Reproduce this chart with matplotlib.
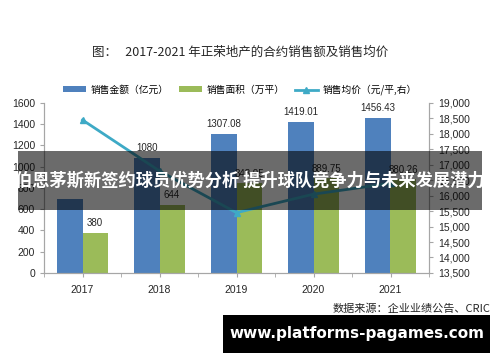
import matplotlib
matplotlib.use('Agg')
from matplotlib import pyplot as plt
from matplotlib.patches import Rectangle
from matplotlib.ticker import FuncFormatter, FixedLocator

plt.rcParams['font.family'] = ['Noto Sans CJK SC', 'DejaVu Sans']

years = ['2017', '2018', '2019', '2020', '2021']
sales_amount = [696, 1080, 1307.08, 1419.01, 1456.43]
sales_area = [380, 644, 843.95, 889.75, 880.26]
avg_price = [18450, 16800, 15450, 16050, 16400]
amount_labels = ['', '1080', '1307.08', '1419.01', '1456.43']
area_labels = ['380', '644', '843.95', '889.75', '880.26']

blue = '#4f81bd'
green = '#9bbb59'
teal = '#3eaac6'
grey = '#a6a6a6'
txt = '#262626'
num_font = 'Liberation Sans'

fig = plt.figure(figsize=(5, 3.62), dpi=100)
ax = fig.add_axes([0.088, 0.246, 0.77, 0.4695])
ax2 = ax.twinx()

x = list(range(len(years)))
w = 0.325
ax.bar([i - w / 2 for i in x], sales_amount, width=w, color=blue, label='销售金额（亿元）', zorder=2)
ax.bar([i + w / 2 for i in x], sales_area, width=w, color=green, label='销售面积（万平）', zorder=2)
for i in x:
    ax.text(i - w / 2, sales_amount[i] + 45, amount_labels[i], ha='center', va='bottom', fontsize=7,
            color=txt, family=num_font)
    ax.text(i + w / 2, sales_area[i] + 45, area_labels[i], ha='center', va='bottom', fontsize=7,
            color=txt, family=num_font)

ax2.plot(x, avg_price, color=teal, lw=2, marker='^', markersize=5, label='销售均价（元/平,右）', zorder=3)

ax.set_xlim(-0.5, 4.5)
ax.set_ylim(0, 1600)
ax.set_yticks(range(0, 1601, 200))
ax2.set_ylim(13500, 19000)
ax2.set_yticks(range(13500, 19001, 500))
ax2.yaxis.set_major_formatter(FuncFormatter(lambda v, p: f'{int(v):,}'))

ax.set_xticks(x)
ax.set_xticklabels(years)
ax.xaxis.set_minor_locator(FixedLocator([i - 0.5 for i in range(6)]))
ax.tick_params(axis='x', which='major', length=0, pad=6)
ax.tick_params(axis='x', which='minor', length=3, color=grey, direction='out')

for a in (ax, ax2):
    for s in a.spines.values():
        s.set_color(grey)
    a.spines['top'].set_visible(False)
    a.tick_params(labelsize=7.5, labelcolor=txt, color=grey, length=3, width=0.8)
    for lab in a.get_xticklabels() + a.get_yticklabels():
        lab.set_family(num_font)

ax.set_zorder(ax2.get_zorder() - 1)
ax.patch.set_visible(False)
ax2.set_zorder(1)

fig.text(0.48, 0.855, '图：   2017-2021 年正荣地产的合约销售额及销售均价', ha='center', va='center',
         fontsize=9, color=txt)

h1, l1 = ax.get_legend_handles_labels()
h2, l2 = ax2.get_legend_handles_labels()
fig.legend(h1 + h2, l1 + l2, loc='center', bbox_to_anchor=(0.48, 0.752), ncol=3, frameon=False,
           fontsize=7, handlelength=2.4, handleheight=0.5, columnspacing=1.0, handletextpad=0.5)

fig.text(0.98, 0.146, '数据来源：企业业绩公告、CRIC', ha='right', va='center', fontsize=8, color=txt)

# overlay banner across the middle
fig.patches.append(Rectangle((0.036, 0.42), 0.928, 0.163, transform=fig.transFigure,
                             facecolor='black', alpha=0.58, edgecolor='none', zorder=10))
fig.text(0.5, 0.502, '伯恩茅斯新签约球员优势分析 提升球队竞争力与未来发展潜力', ha='center', va='center',
         fontsize=12.4, color='white', fontweight='bold', zorder=11)

# website box at bottom
fig.patches.append(Rectangle((0.446, 0.025), 0.534, 0.105, transform=fig.transFigure,
                             facecolor='black', edgecolor='none', zorder=10))
fig.text(0.713, 0.078, 'www.platforms-pagames.com', ha='center', va='center', fontsize=11,
         color='white', fontweight='bold', family='DejaVu Sans', zorder=11)

fig.savefig('out.png', dpi=100)
